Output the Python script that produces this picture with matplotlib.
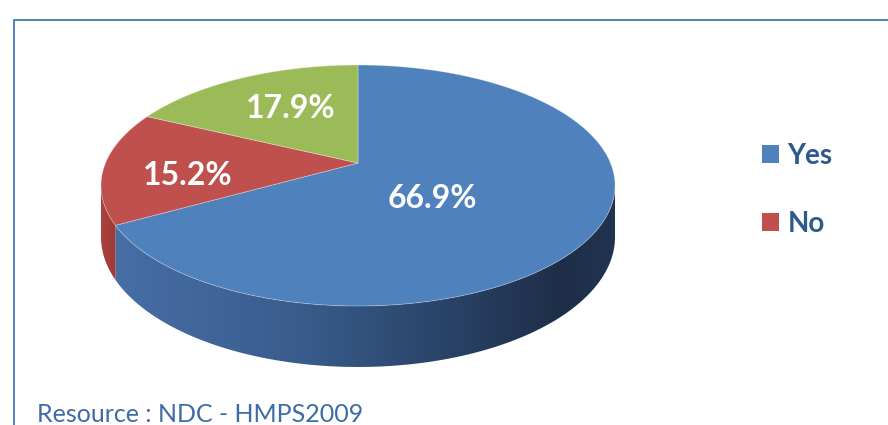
import numpy as np
import matplotlib
matplotlib.use('Agg')
import matplotlib.pyplot as plt
from matplotlib.patches import Polygon, Patch
from matplotlib.lines import Line2D

# ---------------- data ----------------
categories = ['Yes', 'No', 'Other']
values = [66.9, 15.2, 17.9]
value_labels = ['66.9%', '15.2%', '17.9%']
legend_categories = ['Yes', 'No']
source_text = 'Resource : NDC - HMPS2009'

# ---------------- style ----------------
top_colors = ['#4F81BD', '#C0504D', '#9BBB59']
side_stops = [  # (x pixel, rgb) gradient stops for side walls
    [(100, (72, 112, 168)), (300, (57, 92, 140)), (450, (41, 66, 102)),
     (560, (30, 46, 72)), (620, (34, 52, 80))],
    [(95, (176, 70, 66)), (120, (150, 56, 53))],
    [(95, (130, 160, 75)), (120, (110, 140, 60))],
]
label_r = [0.40, 0.67, 0.59]
label_shift = [-15.4, 7.5, -2.7]
FONT = 'Lato'

W, H = 888, 425
CX, CY = 358, 163
A, B, K = 252.5, 116.3, 0.1867
DEPTH = 49.6
START = 90.0


def project(u, v, down=0.0):
    w = 1 + K * v
    return CX + A * u / w, CY - B * v / w + down / w


fig = plt.figure(figsize=(W / 100, H / 100), dpi=100)
ax = fig.add_axes([0, 0, 1, 1])
ax.set_xlim(0, W)
ax.set_ylim(H, 0)
ax.axis('off')

# slice angles (clockwise from 12 o'clock)
fracs = np.array(values) / np.sum(values)
ends = START - 360 * np.cumsum(fracs)
starts = np.concatenate([[START], ends[:-1]])

# visible side window (silhouette)
t_left = -180 + np.degrees(np.arcsin(K))
t_right = -np.degrees(np.arcsin(K))

xs = np.arange(W)
for i, (s, e) in enumerate(zip(starts, ends)):
    lo, hi = max(e, t_left), min(s, t_right)
    if lo >= hi:
        continue
    t = np.radians(np.linspace(lo, hi, 200))
    u, v = np.cos(t), np.sin(t)
    tx, ty = project(u, v)
    bx, by = project(u, v, DEPTH)
    px = np.concatenate([tx, bx[::-1]])
    py = np.concatenate([ty, by[::-1]])
    poly = Polygon(np.column_stack([px, py]), closed=True, facecolor='none',
                   edgecolor='none')
    ax.add_patch(poly)
    stops = side_stops[i]
    sx = [p[0] for p in stops]
    cols = np.array([[np.interp(xs, sx, [p[1][c] for p in stops]) for c in range(3)]]) / 255.0
    img = np.transpose(cols, (0, 2, 1))
    im = ax.imshow(img, extent=(0, W, H, 0), aspect='auto', zorder=1,
                   interpolation='bilinear')
    im.set_clip_path(poly)

# top faces
for i, (s, e) in enumerate(zip(starts, ends)):
    t = np.radians(np.linspace(s, e, 300))
    tx, ty = project(np.cos(t), np.sin(t))
    px = np.concatenate([[CX], tx])
    py = np.concatenate([[CY], ty])
    ax.add_patch(Polygon(np.column_stack([px, py]), closed=True,
                         facecolor=top_colors[i], edgecolor=(1, 1, 1, 0.35),
                         linewidth=0.6, zorder=3))

# value labels
for i, (s, e) in enumerate(zip(starts, ends)):
    m = np.radians((s + e) / 2 + label_shift[i])
    lx, ly = project(label_r[i] * np.cos(m), label_r[i] * np.sin(m))
    ax.text(lx, ly, value_labels[i], color='white', fontsize=23,
            fontweight='bold', family=FONT, ha='center', va='center', zorder=5)

# legend
handles = [Patch(facecolor=top_colors[i], edgecolor='none')
           for i in range(len(legend_categories))]
leg = ax.legend(handles, legend_categories, loc='upper left',
                bbox_to_anchor=(762 / W, 1 - 143 / H), frameon=False,
                prop={'family': FONT, 'weight': 'bold', 'size': 20},
                handlelength=0.62, handleheight=0.62, handletextpad=0.3,
                labelspacing=1.5, borderpad=0, borderaxespad=0)
for txt in leg.get_texts():
    txt.set_color('#2D5A8E')

# frame border (top and left visible)
ax.add_line(Line2D([14, 14, W], [H, 20, 20], color='#4F81BD', linewidth=1.4,
                   zorder=6))

# source text
ax.text(37, 421.5, source_text, color='#3D6BA5', fontsize=18, family=FONT,
        ha='left', va='baseline', zorder=6)

fig.savefig('out.png', dpi=100)
